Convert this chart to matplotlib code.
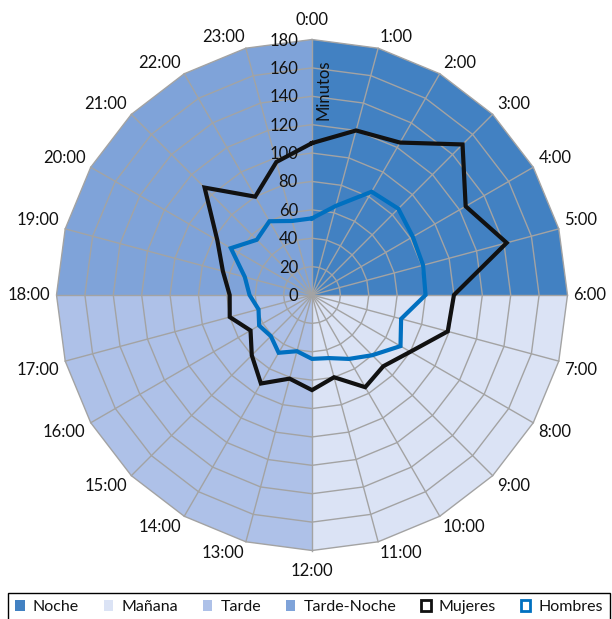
import numpy as np
import matplotlib
matplotlib.use("Agg")
import matplotlib.pyplot as plt
from matplotlib.patches import Polygon, Patch

plt.rcParams['font.family'] = ['Lato', 'DejaVu Sans']

horas = [f'{h}:00' for h in range(24)]
mujeres = [107, 120, 124, 150, 125, 142, 100, 99, 80, 71, 75, 60,
           67, 61, 72, 60, 50, 60, 58, 65, 77, 107, 80, 97]
hombres = [54, 65, 84, 86, 82, 81, 80, 65, 72, 60, 52, 46,
           45, 41, 47, 41, 43, 39, 44, 49, 66, 55, 60, 54]
franjas = ['Noche', 'Mañana', 'Tarde', 'Tarde-Noche']
franja_inicio = [0, 6, 12, 18]
franja_color = ['#4281c2', '#dbe3f5', '#aec1e8', '#7fa3d9']
anillos = [0, 20, 40, 60, 80, 100, 120, 140, 160, 180]
rmax = 180

c_muj = '#111111'
c_hom = '#0070c0'
c_grid = '#a3a3a3'
c_txt = '#111111'

# angle for each hour, clockwise from the top
ang = np.arange(25) * 2 * np.pi / 24


def xy(r, a):
    return np.asarray(r) * np.sin(a), np.asarray(r) * np.cos(a)


fig = plt.figure(figsize=(6.12, 6.19), dpi=100)
ax = fig.add_axes([0, 0, 1, 1])
s = 255.5 / rmax  # px per minute
ax.set_xlim(-312 / s, 300 / s)
ax.set_ylim((295 - 619) / s, 295 / s)
ax.set_aspect('equal')
ax.axis('off')

# background sectors
for ini, col in zip(franja_inicio, franja_color):
    a = ang[ini:ini + 7]
    px, py = xy(rmax, a)
    pts = np.vstack([[0, 0], np.column_stack([px, py])])
    ax.add_patch(Polygon(pts, closed=True, facecolor=col, edgecolor='none', zorder=1))

# polygon grid
for r in anillos[1:]:
    gx, gy = xy(r, ang)
    ax.plot(gx, gy, color=c_grid, lw=1, zorder=2)
for a in ang[:24]:
    gx, gy = xy([0, rmax], a)
    ax.plot(gx, gy, color=c_grid, lw=1, zorder=2)

# series
for vals, col in [(mujeres, c_muj), (hombres, c_hom)]:
    v = np.array(vals + vals[:1])
    lx, ly = xy(v, ang)
    ax.plot(lx, ly, color=col, lw=3, solid_joinstyle='miter', zorder=4)

# hour labels
for i, lab in enumerate(horas):
    a = ang[i]
    sn, cs = np.sin(a), np.cos(a)
    vx, vy = xy(rmax, a)
    ha = 'left' if sn > 0.1 else ('right' if sn < -0.1 else 'center')
    va = 'bottom' if cs > 0.1 else ('top' if cs < -0.1 else 'center')
    off = (6 * sn, 3 * cs)
    if abs(sn) < 0.1:
        off = (0, 12 * np.sign(cs))
    ax.annotate(lab, (vx, vy), xytext=off, textcoords='offset pixels',
                ha=ha, va=va, fontsize=12, color=c_txt, zorder=5)

# radial tick labels along the 0:00 spoke
for r in anillos:
    ax.annotate(str(r), (0, r), xytext=(-14, -1), textcoords='offset pixels',
                ha='right', va='center', fontsize=12, color=c_txt, zorder=5)
ax.annotate('Minutos', (0, (295 - 90) / s), xytext=(12, 0), textcoords='offset pixels',
            rotation=90, ha='center', va='center', fontsize=12, color=c_txt, zorder=5)

handles = [Patch(facecolor=c, edgecolor='none', label=f) for f, c in zip(franjas, franja_color)]
handles.append(Patch(facecolor='white', edgecolor=c_muj, lw=2, label='Mujeres'))
handles.append(Patch(facecolor='white', edgecolor=c_hom, lw=2, label='Hombres'))
leg = fig.legend(handles=handles, ncol=6, loc='upper left', mode='expand',
                 bbox_to_anchor=(8 / 612, 0, 602 / 612, 26 / 619),
                 fontsize=11.5, handlelength=0.6, handleheight=0.6,
                 handletextpad=0.5, borderpad=0.45, borderaxespad=0,
                 fancybox=False, edgecolor='black', framealpha=1)
leg.get_frame().set_linewidth(1)
for t in leg.get_texts():
    t.set_color(c_txt)

fig.savefig('out.png', dpi=100)
